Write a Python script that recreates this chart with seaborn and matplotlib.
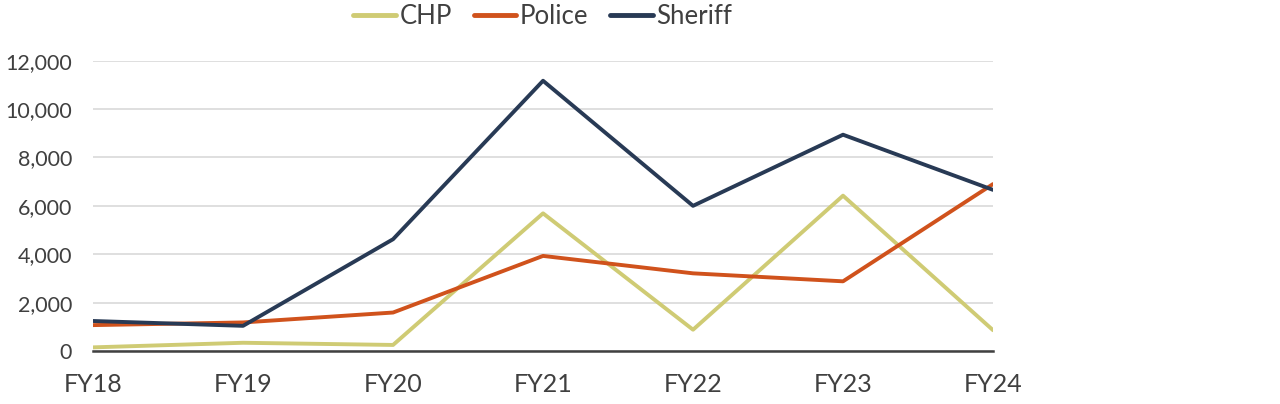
import matplotlib
matplotlib.use("Agg")
import matplotlib.pyplot as plt
import pandas as pd
import seaborn as sns

# Values
years = ["FY18", "FY19", "FY20", "FY21", "FY22", "FY23", "FY24"]
chp = [150, 340, 250, 5690, 880, 6420, 860]
police = [1070, 1180, 1590, 3930, 3210, 2880, 6900]
sheriff = [1240, 1040, 4620, 11170, 6000, 8940, 6660]

series_names = ["CHP", "Police", "Sheriff"]
colors = ["#CFCB74", "#D0521C", "#283A55"]

df = pd.DataFrame({
    "year": years * 3,
    "agency": [n for n in series_names for _ in years],
    "value": chp + police + sheriff,
})

sns.set_style("white")
plt.rcParams["font.family"] = ["Lato", "DejaVu Sans"]
text_color = "#404040"

fig = plt.figure(figsize=(12.8, 4.04), dpi=100)
ax = fig.add_axes([0.0727, 0.1312, 0.7031, 0.7186])

sns.lineplot(data=df, x="year", y="value", hue="agency", palette=colors,
             linewidth=2.8, sort=False, ax=ax, legend=False)

ax.set_xlim(0, len(years) - 1)
ax.set_ylim(0, 12000)
ax.set_yticks(range(0, 12001, 2000))
ax.set_yticklabels([f"{v:,}" for v in range(0, 12001, 2000)])
ax.yaxis.grid(True, color="#D9D9D9", linewidth=1.2)
ax.set_axisbelow(True)

for side in ["top", "right", "left"]:
    ax.spines[side].set_visible(False)
ax.spines["bottom"].set_color(text_color)
ax.spines["bottom"].set_linewidth(1.8)

ax.tick_params(axis="y", length=0, pad=15, labelsize=15.5, labelcolor=text_color)
ax.tick_params(axis="x", length=0, pad=16, labelsize=18, labelcolor=text_color)
ax.set_xlabel("")
ax.set_ylabel("")

handles = [plt.Line2D([0], [0], color=c, linewidth=3.5) for c in colors]
fig.legend(handles, series_names, loc="center", bbox_to_anchor=(0.424, 0.958),
           ncol=3, frameon=False, fontsize=18.5, handlelength=1.65,
           handletextpad=0.15, columnspacing=0.85, labelcolor=text_color)

fig.savefig("out.png", dpi=100)
